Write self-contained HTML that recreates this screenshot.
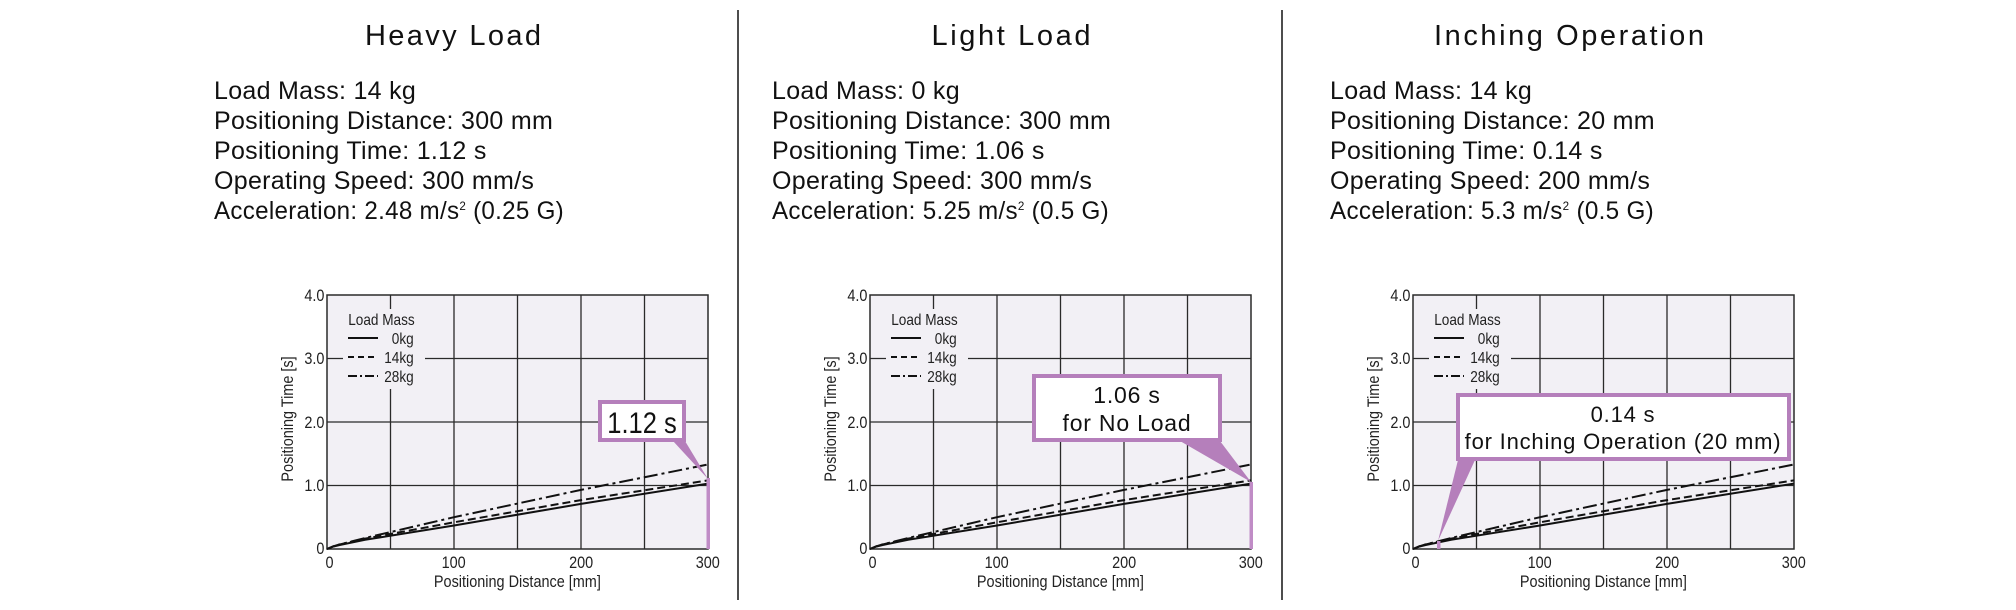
<!DOCTYPE html>
<html><head><meta charset="utf-8"><style>
html,body{margin:0;padding:0;background:#fff;}
svg{display:block;font-family:"Liberation Sans",sans-serif;}
</style></head><body>
<svg width="2016" height="610" viewBox="0 0 2016 610" xmlns="http://www.w3.org/2000/svg">
<defs>
<g id="plot">
  <rect x="0" y="-254" width="381" height="254" fill="#f2f0f5"/>
  <g stroke="#2a2a2a" stroke-width="1.3">
    <line x1="63.5" y1="-254" x2="63.5" y2="0"/>
    <line x1="127" y1="-254" x2="127" y2="0"/>
    <line x1="190.5" y1="-254" x2="190.5" y2="0"/>
    <line x1="254" y1="-254" x2="254" y2="0"/>
    <line x1="317.5" y1="-254" x2="317.5" y2="0"/>
    <line x1="0" y1="-63.5" x2="381" y2="-63.5"/>
    <line x1="0" y1="-127" x2="381" y2="-127"/>
    <line x1="0" y1="-190.5" x2="381" y2="-190.5"/>
  </g>
  <rect x="16" y="-240" width="82" height="80" fill="#f2f0f5"/>
  <rect x="0" y="-254" width="381" height="254" fill="none" stroke="#2a2a2a" stroke-width="1.5"/>
  <g font-size="16" fill="#222" transform="scale(0.85,1)">
    <text x="25" y="-224">Load Mass</text>
    <text x="102" y="-205" text-anchor="end">0kg</text>
    <text x="102" y="-186" text-anchor="end">14kg</text>
    <text x="102" y="-167" text-anchor="end">28kg</text>
  </g>
  <g stroke="#111" stroke-width="2" fill="none">
    <line x1="21" y1="-211" x2="51" y2="-211"/>
    <line x1="21" y1="-192" x2="51" y2="-192" stroke-dasharray="6,4"/>
    <line x1="21" y1="-173" x2="51" y2="-173" stroke-dasharray="9,3,2,3"/>
    <polyline points="0,0 6,-2.4 12.7,-4 38.1,-9.2 127,-23.5 254,-45.1 381,-65.4"/>
    <polyline points="0,0 6,-2.6 12.7,-4.5 38.1,-10.4 127,-26.7 254,-48.9 381,-68.6" stroke-dasharray="8,4"/>
    <polyline points="0,0 6,-2.6 12.7,-4.6 38.1,-11 127,-31.8 254,-59.1 381,-84.5" stroke-dasharray="14,4,3,4"/>
  </g>
  <g font-size="17" fill="#222">
    <g transform="scale(0.85,1)">
      <text x="-3" y="-248" text-anchor="end">4.0</text>
      <text x="-3" y="-185" text-anchor="end">3.0</text>
      <text x="-3" y="-121" text-anchor="end">2.0</text>
      <text x="-3" y="-58" text-anchor="end">1.0</text>
      <text x="-3" y="5" text-anchor="end">0</text>
      <text x="3" y="19" text-anchor="middle">0</text>
      <text x="149" y="19" text-anchor="middle">100</text>
      <text x="299" y="19" text-anchor="middle">200</text>
      <text x="448" y="19" text-anchor="middle">300</text>
      <text x="224" y="38" text-anchor="middle">Positioning Distance [mm]</text>
    </g>
    <text transform="translate(-34,-130) rotate(-90) scale(0.85,1)" text-anchor="middle">Positioning Time [s]</text>
  </g>
</g>
</defs>

<line x1="738" y1="10" x2="738" y2="600" stroke="#222" stroke-width="1.6"/>
<line x1="1282" y1="10" x2="1282" y2="600" stroke="#222" stroke-width="1.6"/>

<g fill="#111">
  <text x="453" y="45" font-size="29" text-anchor="middle" textLength="176" lengthAdjust="spacing">Heavy Load</text>
  <text x="1011" y="45" font-size="29" text-anchor="middle" textLength="159" lengthAdjust="spacing">Light Load</text>
  <text x="1569" y="45" font-size="29" text-anchor="middle" textLength="270" lengthAdjust="spacing">Inching Operation</text>
  <g font-size="25" letter-spacing="0.3">
    <text x="214" y="99">Load Mass: 14 kg</text>
    <text x="214" y="129">Positioning Distance: 300 mm</text>
    <text x="214" y="159">Positioning Time: 1.12 s</text>
    <text x="214" y="189">Operating Speed: 300 mm/s</text>
    <text x="214" y="219" textLength="350" lengthAdjust="spacingAndGlyphs">Acceleration: 2.48 m/s<tspan font-size="12" dy="-9">2</tspan><tspan dy="9"> (0.25 G)</tspan></text>
    <text x="772" y="99">Load Mass: 0 kg</text>
    <text x="772" y="129">Positioning Distance: 300 mm</text>
    <text x="772" y="159">Positioning Time: 1.06 s</text>
    <text x="772" y="189">Operating Speed: 300 mm/s</text>
    <text x="772" y="219" textLength="337" lengthAdjust="spacingAndGlyphs">Acceleration: 5.25 m/s<tspan font-size="12" dy="-9">2</tspan><tspan dy="9"> (0.5 G)</tspan></text>
    <text x="1330" y="99">Load Mass: 14 kg</text>
    <text x="1330" y="129">Positioning Distance: 20 mm</text>
    <text x="1330" y="159">Positioning Time: 0.14 s</text>
    <text x="1330" y="189">Operating Speed: 200 mm/s</text>
    <text x="1330" y="219" textLength="324" lengthAdjust="spacingAndGlyphs">Acceleration: 5.3 m/s<tspan font-size="12" dy="-9">2</tspan><tspan dy="9"> (0.5 G)</tspan></text>
  </g>
</g>

<!-- Panel 1 -->
<g transform="translate(327,549)">
  <use href="#plot"/>
  <rect x="379.5" y="-71" width="3.5" height="71" fill="#c08cc6"/>
  <polygon points="346,-108 358,-108 381,-70" fill="#b57fbb"/>
  <rect x="273" y="-147" width="84" height="38" fill="#fff" stroke="#b57fbb" stroke-width="4"/>
  <text x="315" y="-116" font-size="30" text-anchor="middle" fill="#111" transform="translate(315,0) scale(0.85,1) translate(-315,0)">1.12 s</text>
</g>

<!-- Panel 2 -->
<g transform="translate(870,549)">
  <use href="#plot"/>
  <rect x="379.5" y="-67" width="3.5" height="67" fill="#c08cc6"/>
  <polygon points="310,-108 350,-108 381,-67" fill="#b57fbb"/>
  <rect x="164" y="-173" width="186" height="64" fill="#fff" stroke="#b57fbb" stroke-width="4"/>
  <g font-size="23" text-anchor="middle" fill="#111" letter-spacing="0.8">
    <text x="257" y="-146">1.06 s</text>
    <text x="257" y="-118">for No Load</text>
  </g>
</g>

<!-- Panel 3 -->
<g transform="translate(1413,549)">
  <use href="#plot"/>
  <rect x="24" y="-8" width="3.5" height="8" fill="#c08cc6"/>
  <polygon points="45,-89 62,-89 25,-8" fill="#b57fbb"/>
  <rect x="45" y="-154" width="331" height="64" fill="#fff" stroke="#b57fbb" stroke-width="4"/>
  <g font-size="22" text-anchor="middle" fill="#111" letter-spacing="0.8">
    <text x="210" y="-127">0.14 s</text>
    <text x="210" y="-100">for Inching Operation (20 mm)</text>
  </g>
</g>
</svg>
</body></html>
